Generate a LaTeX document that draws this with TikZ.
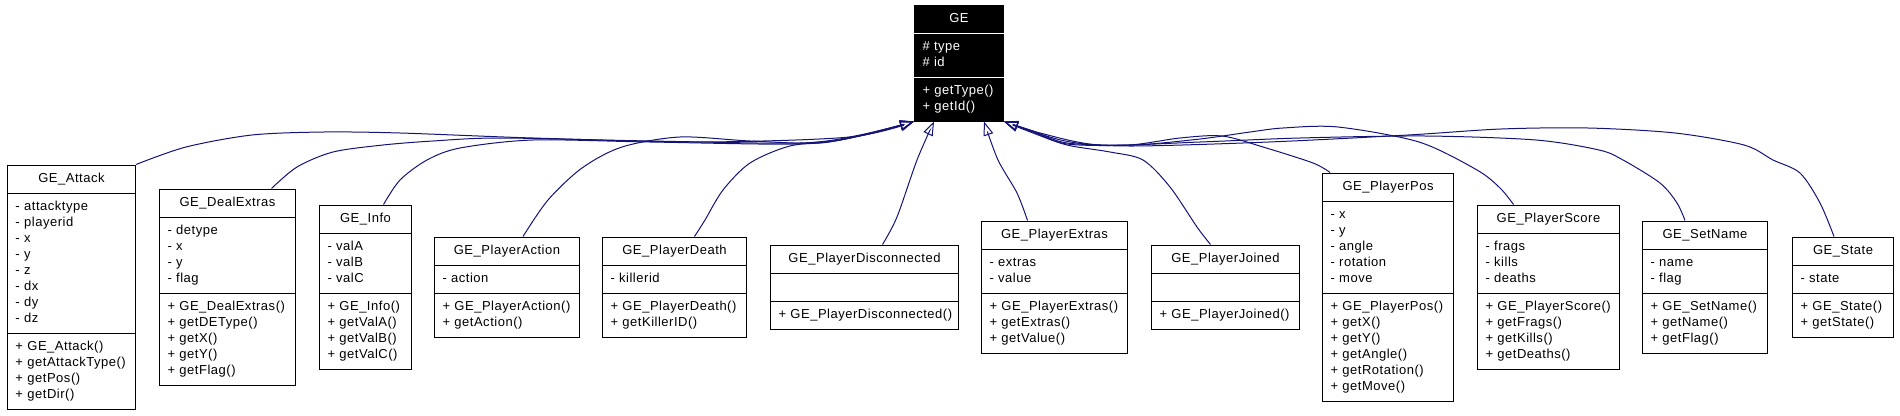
\documentclass[tikz,border=0pt]{standalone}
\usepackage{fontspec}
\setmainfont[LetterSpace=4]{Liberation Sans}
\usetikzlibrary{shapes.multipart,arrows.meta}
\setlength{\parindent}{0pt}
\definecolor{genblue}{RGB}{20,20,120}
\newcommand{\classname}[1]{\hskip 0pt plus 1filll #1\strut\hskip 0pt plus 1filll\null}

\tikzset{
  classbox/.style={draw, line width=1pt, fill=white, rectangle split, rectangle split parts=3,
    text width=#1, align=left, inner xsep=8pt, inner ysep=5.5pt, anchor=two split west,
    font=\fontsize{13}{16}\selectfont},
  inherits/.style={draw=genblue, line width=1pt, -{Triangle[open,length=14pt,width=10pt]}},
}

\begin{document}
\begin{tikzpicture}[x=1pt,y=-1pt]
  \useasboundingbox (0,0) rectangle (1900,415);

  \node [classbox=73pt, fill=black, text=white, rectangle split draw splits=false] (ge) at (914,77)
    {\classname{GE}
     \nodepart{two}\strut\#~type\\\#~id\strut
     \nodepart{three}\strut+~getType()\\+~getId()\strut};
  \draw [white, line width=1pt] (ge.text split west) -- (ge.text split east);
  \draw [white, line width=1pt] (ge.two split west) -- (ge.two split east);

  \node [classbox=112pt] (attack) at (7,333)
    {\classname{GE\_Attack}
     \nodepart{two}\strut-~attacktype\\-~playerid\\-~x\\-~y\\-~z\\-~dx\\-~dy\\-~dz\strut
     \nodepart{three}\strut+~GE\_Attack()\\+~getAttackType()\\+~getPos()\\+~getDir()\strut};
  \node [classbox=120pt] (dealextras) at (159,293)
    {\classname{GE\_DealExtras}
     \nodepart{two}\strut-~detype\\-~x\\-~y\\-~flag\strut
     \nodepart{three}\strut+~GE\_DealExtras()\\+~getDEType()\\+~getX()\\+~getY()\\+~getFlag()\strut};
  \node [classbox=76pt] (info) at (319,293)
    {\classname{GE\_Info}
     \nodepart{two}\strut-~valA\\-~valB\\-~valC\strut
     \nodepart{three}\strut+~GE\_Info()\\+~getValA()\\+~getValB()\\+~getValC()\strut};
  \node [classbox=129pt] (playeraction) at (434,293)
    {\classname{GE\_PlayerAction}
     \nodepart{two}\strut-~action\strut
     \nodepart{three}\strut+~GE\_PlayerAction()\\+~getAction()\strut};
  \node [classbox=128pt] (playerdeath) at (602,293)
    {\classname{GE\_PlayerDeath}
     \nodepart{two}\strut-~killerid\strut
     \nodepart{three}\strut+~GE\_PlayerDeath()\\+~getKillerID()\strut};
  \node [classbox=172pt] (playerdisconnected) at (770,301)
    {\classname{GE\_PlayerDisconnected}
     \nodepart{two}\strut
     \nodepart{three}\strut+~GE\_PlayerDisconnected()\strut};
  \node [classbox=130pt] (playerextras) at (981,293)
    {\classname{GE\_PlayerExtras}
     \nodepart{two}\strut-~extras\\-~value\strut
     \nodepart{three}\strut+~GE\_PlayerExtras()\\+~getExtras()\\+~getValue()\strut};
  \node [classbox=132pt] (playerjoined) at (1151,301)
    {\classname{GE\_PlayerJoined}
     \nodepart{two}\strut
     \nodepart{three}\strut+~GE\_PlayerJoined()\strut};
  \node [classbox=115pt] (playerpos) at (1322,293)
    {\classname{GE\_PlayerPos}
     \nodepart{two}\strut-~x\\-~y\\-~angle\\-~rotation\\-~move\strut
     \nodepart{three}\strut+~GE\_PlayerPos()\\+~getX()\\+~getY()\\+~getAngle()\\+~getRotation()\\+~getMove()\strut};
  \node [classbox=126pt] (playerscore) at (1477,293)
    {\classname{GE\_PlayerScore}
     \nodepart{two}\strut-~frags\\-~kills\\-~deaths\strut
     \nodepart{three}\strut+~GE\_PlayerScore()\\+~getFrags()\\+~getKills()\\+~getDeaths()\strut};
  \node [classbox=109pt] (setname) at (1642,293)
    {\classname{GE\_SetName}
     \nodepart{two}\strut-~name\\-~flag\strut
     \nodepart{three}\strut+~GE\_SetName()\\+~getName()\\+~getFlag()\strut};
  \node [classbox=85pt] (state) at (1792,293)
    {\classname{GE\_State}
     \nodepart{two}\strut-~state\strut
     \nodepart{three}\strut+~GE\_State()\\+~getState()\strut};

  \draw [inherits] plot [smooth] coordinates {(attack.north east) (186,147) (252,135) (324,132) (400,133) (533,138) (700,142) (850,137) (ge.south west)};
  \draw [inherits] plot [smooth] coordinates {([xshift=44pt]dealextras.north) (297,167) (333,152) (383,145) (433,141) (500,138) (650,141) (800,143) (860,135) (ge.south west)};
  \draw [inherits] plot [smooth] coordinates {([xshift=18pt]info.north) (400,180) (427,160) (460,148) (533,140) (650,142) (800,144) (860,136) (ge.south west)};
  \draw [inherits] plot [smooth] coordinates {([xshift=16pt]playeraction.north) (548,200) (582,168) (622,147) (680,137) (750,141) (820,143) (870,133) (ge.south west)};
  \draw [inherits] plot [smooth] coordinates {([xshift=20pt]playerdeath.north) (705,220) (723,190) (750,163) (790,146) (840,140) (880,131) (ge.south west)};
  \draw [inherits] plot [smooth] coordinates {([xshift=18pt]playerdisconnected.north) (897,217) (917,160) ([xshift=20pt]ge.south west)};
  \draw [inherits] plot [smooth] coordinates {([xshift=-27pt]playerextras.north) (1017,193) (998,160) ([xshift=-20pt]ge.south east)};
  \draw [inherits] plot [smooth] coordinates {([xshift=-15pt]playerjoined.north) (1197,227) (1170,187) (1143,160) (1110,152) (1067,145) (1033,133) (ge.south east)};
  \draw [inherits] plot [smooth] coordinates {([xshift=8pt]playerpos.north west) (1313,163) (1263,147) (1222,136) (1180,138) (1129,145) (1067,144) (1033,132) (ge.south east)};
  \draw [inherits] plot [smooth] coordinates {([xshift=-35pt]playerscore.north) (1500,188) (1477,170) (1419,142) (1338,127) (1283,128) (1250,132) (1200,139) (1133,145) (1067,143) (1033,131) (ge.south east)};
  \draw [inherits] plot [smooth] coordinates {([xshift=-20pt]setname.north) (1677,203) (1660,183) (1623,160) (1599,150) (1536,140) (1425,136) (1300,138) (1200,142) (1100,145) (1040,133) (ge.south east)};
  \draw [inherits] plot [smooth] coordinates {([xshift=-9pt]state.north) (1820,203) (1800,173) (1773,160) (1744,145) (1675,133) (1588,128) (1501,129) (1408,135) (1269,142) (1129,146) (1065,141) (ge.south east)};
\end{tikzpicture}
\end{document}
